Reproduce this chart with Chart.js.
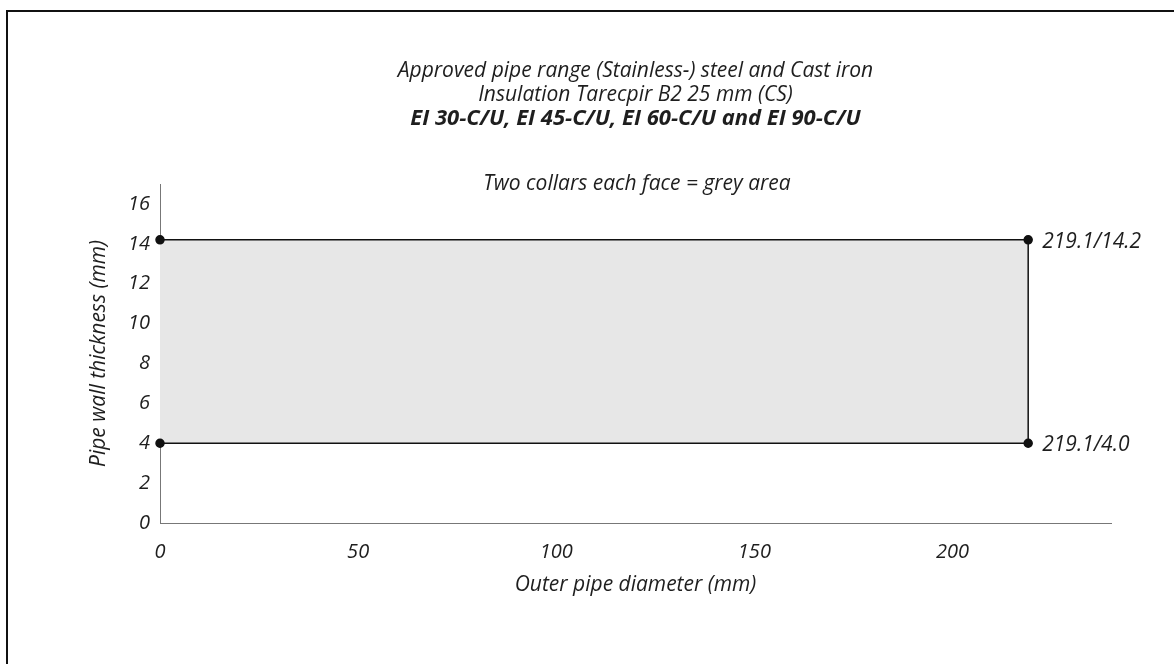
<!DOCTYPE html>
<html lang="en">
<head>
    <meta charset="UTF-8">
    <title>Approved pipe range</title>
    <style>
        body { margin: 0; background: #fff; }
        .frame {
            position: absolute;
            left: 6px;
            top: 10px;
            width: 1300px;
            height: 800px;
            border-top: 2px solid #111;
            border-left: 2px solid #111;
        }
        #wrap { position: absolute; left: 0; top: 0; width: 1174px; height: 664px; }
    </style>
    <script src="https://cdn.jsdelivr.net/npm/chart.js"></script>
</head>
<body>
    <div class="frame"></div>
    <div id="wrap"><canvas id="chart" width="1174" height="664"></canvas></div>

    <script>
        // values
        const outerDiameter = [0, 219.1];
        const upperWall = [14.2, 14.2];
        const lowerWall = [4.0, 4.0];
        const xTicks = [0, 50, 100, 150, 200];
        const yTicks = [0, 2, 4, 6, 8, 10, 12, 14, 16];
        const pointLabels = ['219.1/14.2', '219.1/4.0'];

        const titleLines = ['Approved pipe range (Stainless-) steel and Cast iron', 'Insulation Tarecpir B2 25 mm (CS)'];
        const subtitleLine = 'EI 30-C/U, EI 45-C/U, EI 60-C/U and EI 90-C/U';
        const noteLine = 'Two collars each face = grey area';

        const FONT = '"Open Sans", "Noto Sans", sans-serif';
        const ink = '#1e1e1e';

        const upperPts = outerDiameter.map((x, i) => ({ x: x, y: upperWall[i] }));
        const lowerPts = outerDiameter.map((x, i) => ({ x: x, y: lowerWall[i] }));
        const endX = outerDiameter[outerDiameter.length - 1];
        const edgePts = [{ x: endX, y: lowerWall[1] }, { x: endX, y: upperWall[1] }];

        // the note line and the end point labels
        const textPlugin = {
            id: 'extraText',
            afterDatasetsDraw(chart) {
                const ctx = chart.ctx;
                const xs = chart.scales.x;
                const ys = chart.scales.y;
                ctx.save();
                ctx.fillStyle = ink;
                ctx.font = 'italic 21px ' + FONT;
                ctx.textBaseline = 'middle';
                ctx.textAlign = 'center';
                ctx.fillText(noteLine, 637, 184);

                ctx.textAlign = 'left';
                ctx.fillText(pointLabels[0], xs.getPixelForValue(endX) + 14, ys.getPixelForValue(upperWall[1]) + 2);
                ctx.fillText(pointLabels[1], xs.getPixelForValue(endX) + 14, ys.getPixelForValue(lowerWall[1]) + 2);
                ctx.restore();
            }
        };

        new Chart(document.getElementById('chart'), {
            type: 'scatter',
            data: {
                datasets: [
                    {
                        data: upperPts,
                        showLine: true,
                        borderColor: '#111',
                        borderWidth: 1.5,
                        pointRadius: 4,
                        pointBackgroundColor: '#111',
                        pointBorderColor: '#111',
                        clip: false
                    },
                    {
                        data: lowerPts,
                        showLine: true,
                        borderColor: '#111',
                        borderWidth: 1.5,
                        pointRadius: 4,
                        pointBackgroundColor: '#111',
                        pointBorderColor: '#111',
                        fill: '-1',
                        backgroundColor: '#e7e7e7',
                        clip: false
                    },
                    {
                        data: edgePts,
                        showLine: true,
                        borderColor: '#111',
                        borderWidth: 1.5,
                        pointRadius: 0,
                        clip: false
                    }
                ]
            },
            options: {
                responsive: false,
                animation: false,
                layout: { padding: { left: 0, right: 63, top: 0, bottom: 0 } },
                scales: {
                    x: {
                        type: 'linear',
                        min: 0,
                        max: 240,
                        afterBuildTicks: axis => { axis.ticks = xTicks.map(v => ({ value: v })); },
                        afterFit: axis => { axis.height = 141; },
                        grid: { display: false, drawTicks: false },
                        border: { display: true, color: '#777', width: 1 },
                        ticks: { color: ink, padding: 17, font: { family: FONT, size: 20, style: 'italic' } },
                        title: {
                            display: true,
                            text: 'Outer pipe diameter (mm)',
                            color: ink,
                            font: { family: FONT, size: 21, style: 'italic' },
                            padding: { top: 0, bottom: 66 }
                        }
                    },
                    y: {
                        type: 'linear',
                        min: 0,
                        max: 17,
                        afterBuildTicks: axis => { axis.ticks = yTicks.map(v => ({ value: v })); },
                        afterFit: axis => { axis.width = 160; },
                        grid: { display: false, drawTicks: false },
                        border: { display: true, color: '#777', width: 1 },
                        ticks: { color: ink, padding: 10, font: { family: FONT, size: 20, style: 'italic' } },
                        title: {
                            display: true,
                            text: 'Pipe wall thickness (mm)',
                            color: ink,
                            font: { family: FONT, size: 21, style: 'italic' },
                            padding: { top: 86, bottom: 0 }
                        }
                    }
                },
                plugins: {
                    legend: { display: false },
                    tooltip: { enabled: false },
                    filler: { drawTime: 'beforeDatasetsDraw' },
                    title: {
                        display: true,
                        fullSize: false,
                        text: titleLines,
                        color: ink,
                        font: { family: FONT, size: 21, style: 'italic', weight: 'normal', lineHeight: '24px' },
                        padding: { top: 59, bottom: 0 }
                    },
                    subtitle: {
                        display: true,
                        fullSize: false,
                        text: subtitleLine,
                        color: ink,
                        font: { family: FONT, size: 22, style: 'italic', weight: 'bold', lineHeight: '24px' },
                        padding: { top: 0, bottom: 53 }
                    }
                }
            },
            plugins: [textPlugin]
        });
    </script>
</body>
</html>
